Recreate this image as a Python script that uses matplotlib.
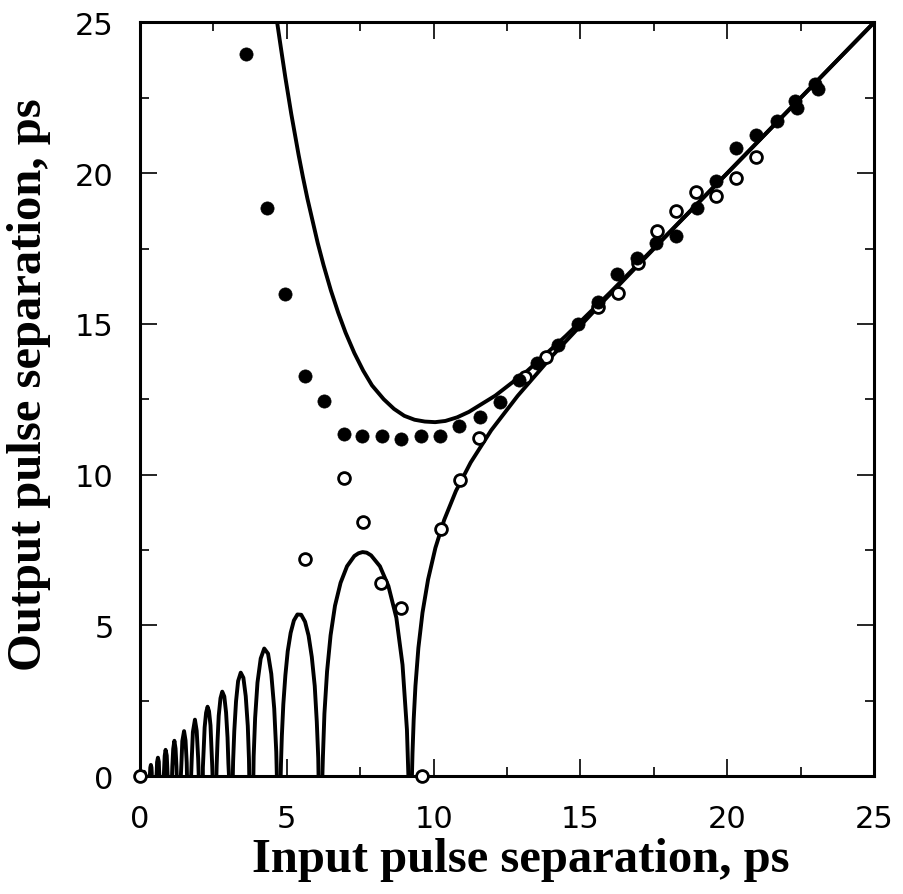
import matplotlib
matplotlib.use("Agg")
import matplotlib.pyplot as plt
from matplotlib.ticker import MultipleLocator

# measured points - filled circles
filled_x = [3.62, 4.31, 4.95, 5.61, 6.27, 6.93, 7.57, 8.24, 8.90, 9.56, 10.22, 10.87,
            11.58, 12.26, 12.89, 13.52, 14.22, 14.90, 15.59, 16.24, 16.93, 17.58, 18.27,
            18.96, 19.63, 20.31, 20.99, 21.70, 22.30, 22.36, 23.00, 23.10]
filled_y = [23.95, 18.86, 15.98, 13.27, 12.44, 11.35, 11.28, 11.28, 11.19, 11.28, 11.28, 11.60,
            11.92, 12.40, 13.13, 13.69, 14.30, 15.00, 15.74, 16.64, 17.18, 17.68, 17.93,
            18.83, 19.74, 20.83, 21.27, 21.74, 22.40, 22.15, 22.95, 22.80]

# measured points - open circles
open_x = [0.00, 5.63, 6.93, 7.59, 8.20, 8.90, 9.60, 10.24, 10.90, 11.56, 13.11, 13.84,
          15.61, 16.27, 16.95, 17.59, 18.26, 18.94, 19.62, 20.29, 20.98]
open_y = [0.00, 7.21, 9.90, 8.42, 6.42, 5.57, 0.00, 8.20, 9.81, 11.22, 13.24, 13.90,
          15.57, 16.01, 17.01, 18.07, 18.73, 19.37, 19.23, 19.83, 20.52]

# theory, upper branch
upper_x = [4.67, 4.80, 4.95, 5.15, 5.40, 5.55, 5.70, 6.05, 6.25, 6.50, 6.75, 7.00, 7.30,
           7.60, 7.90, 8.30, 8.65, 9.00, 9.35, 9.70, 10.05, 10.40, 10.80, 11.20, 12.10,
           13.20, 14.50, 16.00, 18.00, 20.50, 25.00]
upper_y = [25.00, 24.14, 23.17, 21.97, 20.61, 19.86, 19.16, 17.69, 16.95, 16.11, 15.37, 14.71, 14.03,
           13.45, 12.96, 12.50, 12.18, 11.95, 11.82, 11.76, 11.74, 11.78, 11.90, 12.08, 12.62,
           13.45, 14.60, 16.03, 18.01, 20.50, 25.00]

# theory, lower branch (right part)
right_x = [9.26, 9.28, 9.32, 9.38, 9.48, 9.62, 9.81, 10.06, 10.36, 10.76, 11.26, 11.96,
           12.86, 14.06, 15.76, 18.26, 21.26, 25.00]
right_y = [0.00, 0.77, 1.87, 2.99, 4.25, 5.42, 6.52, 7.57, 8.50, 9.46, 10.40, 11.47,
           12.61, 13.96, 15.73, 18.26, 21.26, 25.00]

# theory, lower branch arches (left to right)
arch_x = [
    [0.12, 0.13, 0.13, 0.14, 0.16, 0.16, 0.17],
    [0.33, 0.34, 0.35, 0.37, 0.39, 0.40, 0.40],
    [0.56, 0.57, 0.58, 0.61, 0.64, 0.65, 0.66],
    [0.81, 0.82, 0.84, 0.87, 0.91, 0.93, 0.94],
    [1.09, 1.10, 1.13, 1.17, 1.21, 1.24, 1.25],
    [1.39, 1.41, 1.44, 1.50, 1.55, 1.59, 1.60],
    [1.74, 1.76, 1.80, 1.87, 1.93, 1.98, 2.00],
    [2.14, 2.14, 2.17, 2.20, 2.25, 2.30, 2.35, 2.40, 2.43, 2.46, 2.47],
    [2.60, 2.61, 2.64, 2.68, 2.74, 2.80, 2.87, 2.93, 2.98, 3.01, 3.03],
    [3.16, 3.17, 3.21, 3.27, 3.34, 3.43, 3.52, 3.60, 3.67, 3.71, 3.72],
    [3.86, 3.87, 3.92, 4.00, 4.11, 4.23, 4.36, 4.47, 4.57, 4.64, 4.66],
    [4.79, 4.80, 4.83, 4.88, 4.95, 5.03, 5.13, 5.24, 5.36, 5.49, 5.62, 5.74, 5.85, 5.95, 6.02, 6.07, 6.08],
    [6.21, 6.23, 6.28, 6.37, 6.49, 6.64, 6.83, 7.05, 7.30, 7.44, 7.58, 7.72, 7.87, 8.17, 8.46, 8.73,
     8.94, 9.09, 9.14],
]
arch_y = [
    [0.00, 0.04, 0.11, 0.14, 0.11, 0.04, 0.00],
    [0.00, 0.09, 0.28, 0.37, 0.28, 0.10, 0.00],
    [0.00, 0.16, 0.46, 0.61, 0.47, 0.16, 0.00],
    [0.00, 0.23, 0.67, 0.87, 0.68, 0.24, 0.00],
    [0.00, 0.32, 0.90, 1.17, 0.91, 0.33, 0.00],
    [0.00, 0.42, 1.16, 1.49, 1.18, 0.44, 0.00],
    [0.00, 0.54, 1.46, 1.87, 1.50, 0.58, 0.00],
    [0.00, 0.28, 0.93, 1.61, 2.10, 2.30, 2.15, 1.68, 0.99, 0.31, 0.00],
    [0.00, 0.36, 1.17, 2.00, 2.58, 2.80, 2.64, 2.11, 1.28, 0.41, 0.00],
    [0.00, 0.48, 1.49, 2.48, 3.15, 3.43, 3.26, 2.65, 1.66, 0.56, 0.00],
    [0.00, 0.65, 1.93, 3.10, 3.90, 4.23, 4.06, 3.39, 2.24, 0.80, 0.00],
    [0.00, 0.40, 1.33, 2.38, 3.34, 4.14, 4.75, 5.16, 5.36, 5.35, 5.12, 4.66, 3.95, 2.99, 1.80, 0.59, 0.00],
    [0.00, 0.68, 2.07, 3.47, 4.67, 5.65, 6.41, 6.96, 7.30, 7.39, 7.43, 7.41, 7.32, 6.96, 6.30, 5.25,
     3.69, 1.54, 0.00],
]

fig = plt.figure(figsize=(9.04, 8.95), dpi=100)
ax = fig.add_axes([0.1549, 0.1318, 0.812, 0.842])

lw = 2.8
ax.plot(upper_x, upper_y, color="black", lw=lw, solid_joinstyle="round", zorder=2)
ax.plot(right_x, right_y, color="black", lw=lw, solid_joinstyle="round", zorder=2)
for ax_x, ax_y in zip(arch_x, arch_y):
    ax.plot(ax_x, ax_y, color="black", lw=lw, solid_joinstyle="round", zorder=2)

ax.plot(open_x, open_y, "o", ms=8.5, mfc="white", mec="black", mew=2.0, zorder=3, clip_on=False)
ax.plot(filled_x, filled_y, "o", ms=9.5, mfc="black", mec="black", mew=0.5, zorder=4, clip_on=False)

ax.set_xlim(0, 25)
ax.set_ylim(0, 25)
ax.set_xticks([0, 5, 10, 15, 20, 25])
ax.set_yticks([0, 5, 10, 15, 20, 25])
ax.xaxis.set_minor_locator(MultipleLocator(2.5))
ax.yaxis.set_minor_locator(MultipleLocator(2.5))
ax.tick_params(which="both", direction="in", top=True, right=True, width=1.2, color="black")
ax.tick_params(which="major", length=12)
ax.tick_params(which="minor", length=6.5)
ax.tick_params(axis="x", which="major", pad=20)
ax.tick_params(axis="y", which="major", pad=19)
for lab in ax.get_xticklabels() + ax.get_yticklabels():
    lab.set_fontfamily("DejaVu Sans")
    lab.set_fontsize(22)
for sp in ax.spines.values():
    sp.set_linewidth(2.2)

fig.text(0.576, 0.026, "Input pulse separation, ps", ha="center", va="baseline",
         fontfamily="Liberation Serif", fontweight="bold", fontsize=35)
fig.text(0.032, 0.57, "Output pulse separation, ps", ha="center", va="center", rotation=90,
         fontfamily="Liberation Serif", fontweight="bold", fontsize=35)

fig.savefig("out.png", dpi=100)
